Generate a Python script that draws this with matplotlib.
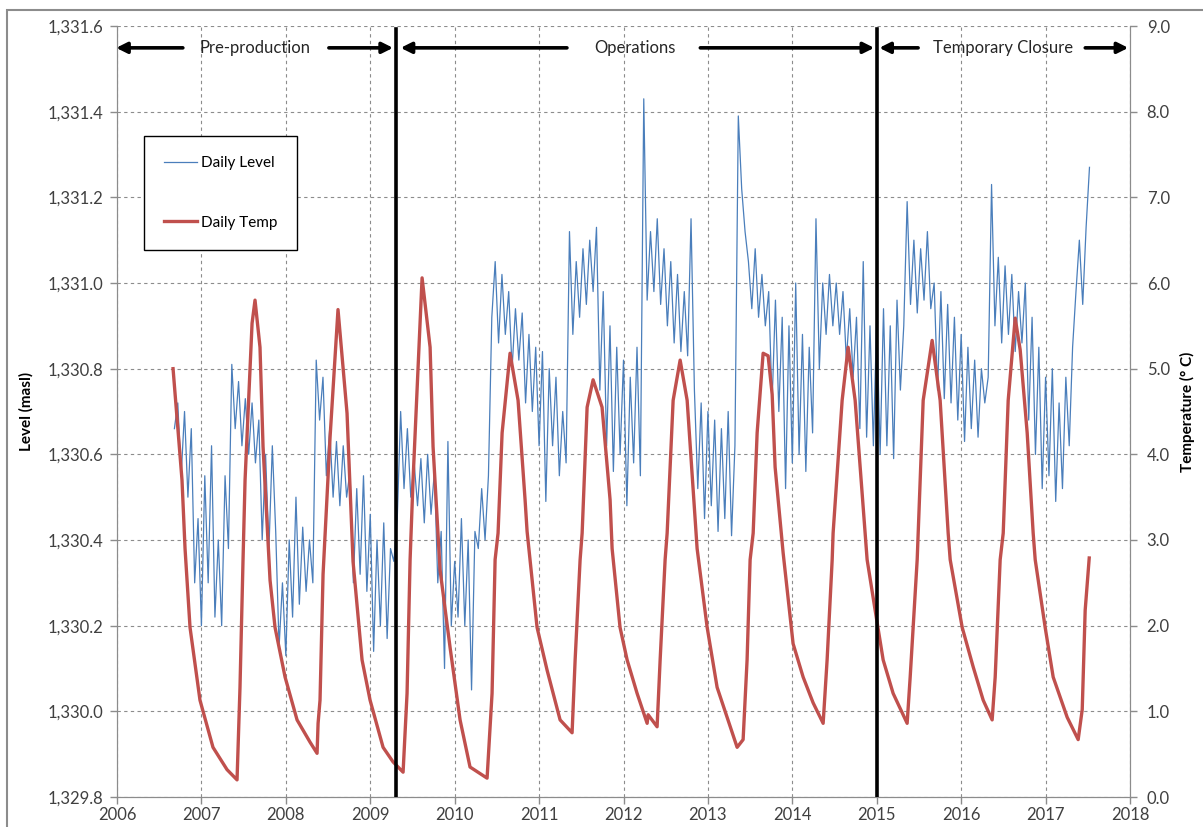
import numpy as np
import matplotlib.pyplot as plt
from matplotlib.patches import Rectangle
from matplotlib.ticker import FuncFormatter, MultipleLocator

plt.rcParams['font.family'] = ['Lato', 'DejaVu Sans']

level_step = 0.04
level_2006 = [1330.66, 1330.72, 1330.55, 1330.70, 1330.50, 1330.66, 1330.30, 1330.45]  # from 2006.68
level_2007 = [1330.20, 1330.55, 1330.30, 1330.62, 1330.22, 1330.40, 1330.20, 1330.55, 1330.38, 1330.81,
              1330.66, 1330.77, 1330.62, 1330.73, 1330.60, 1330.72, 1330.58, 1330.68, 1330.40, 1330.60,
              1330.38, 1330.62, 1330.42, 1330.15, 1330.30]
level_2008 = [1330.13, 1330.40, 1330.22, 1330.50, 1330.25, 1330.43, 1330.28, 1330.40, 1330.30, 1330.82,
              1330.68, 1330.78, 1330.55, 1330.66, 1330.50, 1330.63, 1330.48, 1330.62, 1330.50, 1330.56,
              1330.30, 1330.52, 1330.32, 1330.55, 1330.28]
level_2009 = [1330.46, 1330.14, 1330.40, 1330.20, 1330.44, 1330.17, 1330.38, 1330.35, 1330.45, 1330.70,
              1330.52, 1330.66, 1330.50, 1330.58, 1330.48, 1330.59, 1330.44, 1330.60, 1330.46, 1330.56,
              1330.30, 1330.42, 1330.10, 1330.63, 1330.20]
level_2010 = [1330.35, 1330.22, 1330.45, 1330.20, 1330.40, 1330.05, 1330.42, 1330.38, 1330.52, 1330.40,
              1330.55, 1330.92, 1331.05, 1330.86, 1331.02, 1330.88, 1330.98, 1330.80, 1330.94, 1330.82,
              1330.93, 1330.72, 1330.88, 1330.70, 1330.85]
level_2011 = [1330.62, 1330.84, 1330.49, 1330.80, 1330.62, 1330.78, 1330.55, 1330.70, 1330.58, 1331.12,
              1330.88, 1331.05, 1330.92, 1331.08, 1330.95, 1331.10, 1330.98, 1331.13, 1330.75, 1330.98,
              1330.62, 1330.90, 1330.56, 1330.85, 1330.60]
level_2012 = [1330.82, 1330.48, 1330.78, 1330.58, 1330.85, 1330.55, 1331.43, 1330.96, 1331.12, 1330.98,
              1331.15, 1330.95, 1331.08, 1330.90, 1331.05, 1330.86, 1331.02, 1330.84, 1330.98, 1330.83,
              1331.15, 1330.75, 1330.52, 1330.72, 1330.45]
level_2013 = [1330.70, 1330.48, 1330.68, 1330.42, 1330.66, 1330.45, 1330.70, 1330.41, 1330.62, 1331.39,
              1331.22, 1331.12, 1331.05, 1330.94, 1331.08, 1330.92, 1331.02, 1330.90, 1330.98, 1330.72,
              1330.96, 1330.70, 1330.92, 1330.52, 1330.90]
level_2014 = [1330.58, 1331.00, 1330.60, 1330.88, 1330.56, 1330.85, 1330.65, 1331.15, 1330.80, 1331.00,
              1330.88, 1331.02, 1330.90, 1331.00, 1330.88, 1330.98, 1330.82, 1330.94, 1330.78, 1330.92,
              1330.66, 1331.05, 1330.64, 1330.90, 1330.62]
level_2015 = [1330.92, 1330.60, 1330.94, 1330.62, 1330.90, 1330.59, 1330.96, 1330.75, 1330.90, 1331.19,
              1330.95, 1331.10, 1330.93, 1331.08, 1330.96, 1331.12, 1330.94, 1331.00, 1330.75, 1330.98,
              1330.73, 1330.95, 1330.72, 1330.92, 1330.68]
level_2016 = [1330.88, 1330.63, 1330.85, 1330.66, 1330.82, 1330.64, 1330.80, 1330.72, 1330.78, 1331.23,
              1330.90, 1331.06, 1330.86, 1331.04, 1330.88, 1331.02, 1330.84, 1330.98, 1330.86, 1331.00,
              1330.68, 1330.92, 1330.60, 1330.85, 1330.52]
level_2017 = [1330.78, 1330.55, 1330.80, 1330.49, 1330.72, 1330.52, 1330.78, 1330.62, 1330.85, 1330.98,
              1331.10, 1330.95, 1331.13, 1331.27]

# daily temperature (deg C)
temp_years = [2006.664, 2006.770, 2006.806, 2006.865, 2006.983, 2007.137, 2007.303, 2007.422, 2007.457,
              2007.493, 2007.517, 2007.600, 2007.635, 2007.694, 2007.730, 2007.813, 2007.872, 2007.991,
              2008.133, 2008.287, 2008.370, 2008.382, 2008.405, 2008.441, 2008.524, 2008.618, 2008.725,
              2008.796, 2008.903, 2008.998, 2009.152, 2009.270, 2009.389, 2009.436, 2009.472, 2009.507,
              2009.614, 2009.709, 2009.744, 2009.827, 2009.945, 2010.064, 2010.182, 2010.384, 2010.443,
              2010.479, 2010.514, 2010.562, 2010.656, 2010.751, 2010.834, 2010.858, 2010.976, 2011.095,
              2011.249, 2011.391, 2011.427, 2011.486, 2011.510, 2011.569, 2011.640, 2011.746, 2011.841,
              2011.865, 2011.959, 2012.043, 2012.161, 2012.256, 2012.280, 2012.292, 2012.398, 2012.434,
              2012.493, 2012.517, 2012.588, 2012.671, 2012.754, 2012.872, 2012.991, 2013.109, 2013.227,
              2013.346, 2013.417, 2013.464, 2013.500, 2013.536, 2013.583, 2013.654, 2013.713, 2013.761,
              2013.796, 2013.891, 2014.009, 2014.128, 2014.246, 2014.365, 2014.412, 2014.472, 2014.483,
              2014.590, 2014.661, 2014.744, 2014.863, 2014.886, 2014.981, 2015.076, 2015.194, 2015.360,
              2015.396, 2015.479, 2015.491, 2015.550, 2015.656, 2015.751, 2015.846, 2015.870, 2016.012,
              2016.142, 2016.261, 2016.367, 2016.403, 2016.462, 2016.498, 2016.557, 2016.640, 2016.699,
              2016.782, 2016.853, 2016.877, 2016.995, 2017.090, 2017.256, 2017.386, 2017.434, 2017.469,
              2017.517]
temp_vals = [5.00, 3.70, 2.90, 1.98, 1.13, 0.58, 0.32, 0.20, 1.28,
             2.77, 3.70, 5.53, 5.80, 5.25, 4.09, 2.53, 1.98, 1.40,
             0.90, 0.64, 0.51, 0.86, 1.13, 2.60, 4.20, 5.69, 4.48,
             2.75, 1.60, 1.13, 0.58, 0.41, 0.29, 1.21, 2.77, 3.70,
             6.06, 5.25, 4.09, 2.65, 1.75, 0.90, 0.35, 0.22, 1.21,
             2.77, 3.08, 4.25, 5.18, 4.63, 3.47, 3.10, 1.98, 1.48,
             0.90, 0.75, 1.60, 2.77, 3.08, 4.55, 4.87, 4.55, 3.47,
             2.90, 1.98, 1.60, 1.21, 0.93, 0.86, 0.96, 0.82, 1.60,
             2.77, 3.08, 4.63, 5.10, 4.63, 2.90, 1.98, 1.28, 0.93,
             0.58, 0.67, 1.60, 2.77, 3.08, 4.25, 5.18, 5.15, 4.70,
             3.85, 2.85, 1.79, 1.40, 1.10, 0.86, 1.60, 2.77, 3.08,
             4.63, 5.25, 4.63, 3.08, 2.77, 2.18, 1.60, 1.21, 0.86,
             1.40, 2.77, 3.08, 4.63, 5.33, 4.63, 3.08, 2.77, 1.98,
             1.52, 1.13, 0.90, 1.40, 2.77, 3.08, 4.63, 5.59, 5.22,
             4.25, 3.08, 2.77, 1.98, 1.40, 0.93, 0.67, 1.02, 2.18,
             2.79]

phase_bounds = [2009.31, 2015.0]
phase_labels = ["Pre-production", "Operations", "Temporary Closure"]
year_ticks = list(range(2006, 2019))

# build level series
level_vals = level_2006 + level_2007 + level_2008 + level_2009 + level_2010 + level_2011 + \
    level_2012 + level_2013 + level_2014 + level_2015 + level_2016 + level_2017
level_years = np.concatenate([2006.68 + level_step * np.arange(len(level_2006))] +
                             [y + level_step * np.arange(len(v)) for y, v in
                              zip(range(2007, 2018), [level_2007, level_2008, level_2009, level_2010,
                                                      level_2011, level_2012, level_2013, level_2014,
                                                      level_2015, level_2016, level_2017])])

fig = plt.figure(figsize=(12.03, 8.27), dpi=100)
ax = fig.add_axes([117 / 1203, 1 - 797 / 827, 1013 / 1203, 771 / 827])
ax2 = ax.twinx()

grey = '#8c8c8c'
txt = '#404040'

l1, = ax.plot(level_years, level_vals, color='#4a7ebb', lw=0.9, label='Daily Level')
l2, = ax2.plot(temp_years, temp_vals, color='#c0504d', lw=2.4, label='Daily Temp', zorder=3)

ax.set_xlim(2006, 2018)
ax.set_ylim(1329.8, 1331.6)
ax2.set_ylim(0, 9)
ax.set_xticks(year_ticks)
ax.yaxis.set_major_locator(MultipleLocator(0.2))
ax2.yaxis.set_major_locator(MultipleLocator(1.0))
ax.yaxis.set_major_formatter(FuncFormatter(lambda v, p: f"{v:,.1f}"))
ax2.yaxis.set_major_formatter(FuncFormatter(lambda v, p: f"{v:.1f}"))

ax.grid(True, color=grey, ls=(0, (3, 3)), lw=0.8)
for a in (ax, ax2):
    a.spines['top'].set_visible(False)
    for s in ('left', 'right', 'bottom'):
        a.spines[s].set_color(grey)
    a.tick_params(colors=grey, labelcolor=txt, labelsize=12, length=5, width=1)
ax.tick_params(axis='y', pad=5)
ax.tick_params(axis='x', pad=2)
ax2.tick_params(axis='y', pad=7)

ax.set_ylabel('Level (masl)', fontsize=11, fontweight='bold', color='black', labelpad=10)
ax2.set_ylabel('Temperature (° C)', fontsize=11, fontweight='bold', color='black', labelpad=7)

# phase boundaries and arrows
for b in phase_bounds:
    ax2.axvline(b, ymin=0, ymax=0.996, color='black', lw=2.6, zorder=4)

ya = 1331.549
arrows = [(2006.78, 2005.99), (2008.51, 2009.27), (2011.33, 2009.36), (2012.91, 2014.97),
          (2015.49, 2015.03), (2017.47, 2017.98)]
for tail, head in arrows:
    ax.annotate('', xy=(head, ya), xytext=(tail, ya), annotation_clip=False,
                arrowprops=dict(arrowstyle='-|>', lw=2.6, color='black', mutation_scale=16,
                                shrinkA=0, shrinkB=0))
for x, lab in zip([2007.635, 2012.14, 2016.50], phase_labels):
    ax.text(x, ya, lab, ha='center', va='center', fontsize=12, color='#262626')

leg = fig.legend(handles=[l1, l2], loc='upper left', bbox_to_anchor=(144 / 1203, 1 - 136 / 827),
                 borderaxespad=0, fontsize=11, frameon=True, fancybox=False, edgecolor='black',
                 framealpha=1, borderpad=1.3, labelspacing=3.0, handlelength=2.2, handletextpad=0.2)
leg.get_frame().set_linewidth(1.0)

# outer chart border
fig.add_artist(Rectangle((7 / 1203, -0.05), 1.2, 1 - 10 / 827 + 0.05, transform=fig.transFigure,
                         fill=False, edgecolor=grey, lw=1.5))

fig.savefig('out.png', dpi=100)
